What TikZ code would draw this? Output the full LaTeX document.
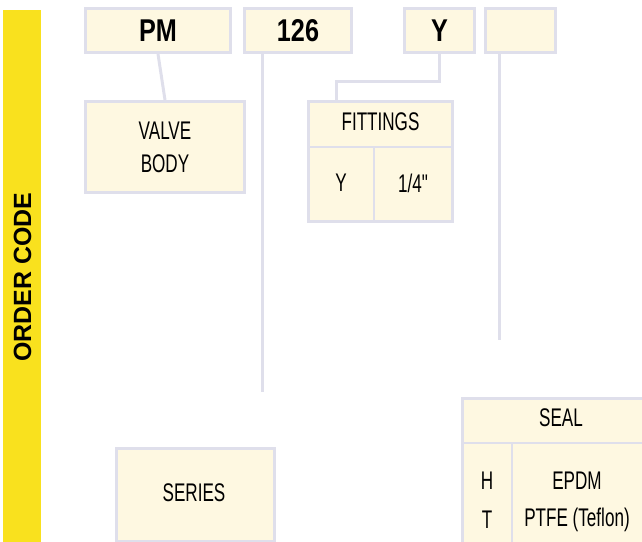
\documentclass[tikz,border=0pt]{standalone}
\usepackage{fontspec}
\newfontfamily\condfont{Liberation Sans}[FakeStretch=0.67]
\newfontfamily\codefont{Liberation Sans}[FakeStretch=0.8]
\newfontfamily\widefont{Liberation Sans}
\usetikzlibrary{positioning}
\definecolor{codeyellow}{HTML}{F9E11E}
\definecolor{boxfill}{HTML}{FEF8E1}
\definecolor{boxline}{HTML}{DFDFEB}

\tikzset{
  codebox/.style={draw=boxline, fill=boxfill, line width=3pt, inner sep=0pt,
    minimum height=44pt, font=\codefont\fontsize{31.5}{34}\selectfont\bfseries},
  infobox/.style={draw=boxline, fill=boxfill, line width=3pt, inner sep=0pt,
    align=center, font=\condfont\fontsize{25.5}{33}\selectfont},
  link/.style={draw=boxline, line width=3pt},
  rule/.style={draw=boxline, line width=2pt},
  cell/.style={inner sep=0pt, font=\condfont\fontsize{25.5}{33}\selectfont},
}

\begin{document}
\begin{tikzpicture}[x=1pt, y=-1pt]
  \useasboundingbox (0,0) rectangle (642,541);
  % Streifen links
  \fill[codeyellow] (3,10) rectangle (41,545);
  \node[rotate=90, inner sep=0pt, font=\widefont\fontsize{24.9}{26}\selectfont\bfseries]
    (ordercode) at (22.5,277) {ORDER CODE};

  % Code-Felder
  \node[codebox, minimum width=145pt] (pm) at (158,30.5) {PM};
  \node[codebox, minimum width=107pt] (series) at (298,30.5) {126};
  \node[codebox, minimum width=70pt] (fit) at (439.5,30.5) {Y};
  \node[codebox, minimum width=70pt] (seal) at (520.5,30.5) {};

  % Beschreibungen
  \node[infobox, minimum width=159pt, minimum height=91pt] (valve) at (165,147) {VALVE\\BODY};
  \node[infobox, minimum width=158pt, minimum height=93pt] (seriesbox) at (195.5,495) {};
  \node[cell] (serieslabel) at (194,492.5) {SERIES};

  % Fittings-Tabelle
  \node[infobox, minimum width=144pt, minimum height=120pt] (fittings) at (380.5,161.5) {};
  \draw[rule] (fittings.west |- 0,147) -- (fittings.east |- 0,147);
  \draw[rule] (374,147) -- (fittings.south -| 374,0);
  \node[cell] (fithead) at (380.5,122) {FITTINGS};
  \node[cell] (fitkey) at (341,183) {Y};
  \node[cell] (fitsize) at (413,183) {1/4"};

  % Dichtung-Tabelle
  \node[infobox, minimum width=181pt, minimum height=145pt] (sealbox) at (553,471) {};
  \draw[rule] (sealbox.west |- 0,443) -- (sealbox.east |- 0,443);
  \draw[rule] (512,443) -- (sealbox.south -| 512,0);
  \node[cell] (sealhead) at (561,418) {SEAL};
  \node[cell] (sealH) at (487,481) {H};
  \node[cell] (sealT) at (487,520) {T};
  \node[cell] (sealepdm) at (577,481) {EPDM};
  \node[cell] (sealptfe) at (577,520) {PTFE (Teflon)};

  % Verbindungen
  \coordinate (seriesend) at (262,392);
  \coordinate (fitjoint) at (336,81);
  \coordinate (sealend) at (499,340);
  \draw[link] (pm.south) -- (valve.north);
  \draw[link] (series.south -| seriesend) -- (seriesend);
  \draw[link] (fit.south) |- (fitjoint) -- (fittings.north -| fitjoint);
  \draw[link] (seal.south -| sealend) -- (sealend);
\end{tikzpicture}
\end{document}
